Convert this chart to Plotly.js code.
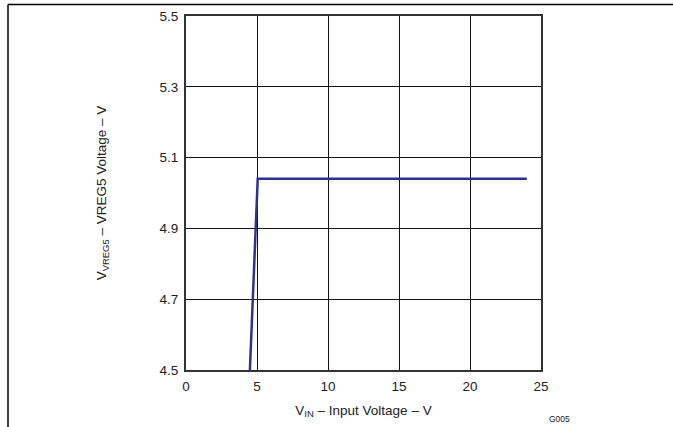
<!DOCTYPE html>
<html>
<head>
<meta charset="utf-8">
<script src="https://cdn.plot.ly/plotly-3.0.1.min.js"></script>
<style>
  html, body { margin: 0; padding: 0; background: #fff; }
  #chart { width: 673px; height: 427px; }
</style>
</head>
<body>
<div id="chart"></div>
<script>
// Data
const vin = [4.5, 5.05, 24];
const vreg5 = [4.5, 5.04, 5.04];
const xTicks = [0, 5, 10, 15, 20, 25];
const yTicks = [4.5, 4.7, 4.9, 5.1, 5.3, 5.5];
const yTickText = ['4.5', '4.7', '4.9', '5.1', '5.3', '5.5'];

const trace = {
  x: vin,
  y: vreg5,
  type: 'scatter',
  mode: 'lines',
  line: { color: '#2e3192', width: 2.5 },
  hoverinfo: 'skip',
  cliponaxis: true
};

const L = 186, R = 132, T = 16, B = 57;
const W = 673, H = 427;
const pw = W - L - R, ph = H - T - B;
const px = p => (p - L) / pw;
const py = p => (H - B - p) / ph;

const layout = {
  width: W,
  height: H,
  margin: { l: L, r: R, t: T, b: B, pad: 0 },
  paper_bgcolor: '#ffffff',
  plot_bgcolor: '#ffffff',
  showlegend: false,
  font: { family: 'Liberation Sans, Arial, sans-serif', size: 13.5, color: '#222' },
  xaxis: {
    range: [0, 25],
    tickvals: xTicks,
    ticktext: xTicks.map(String),
    ticks: '',
    ticklabelstandoff: 3,
    showgrid: true,
    gridcolor: '#111',
    gridwidth: 1,
    zeroline: false,
    showline: true,
    mirror: true,
    linecolor: '#333',
    linewidth: 2,
    tickfont: { size: 13.5, color: '#222' },
    title: { text: 'V<sub style="font-size:85%">IN</sub> – Input Voltage – V', font: { size: 13.5, color: '#222' }, standoff: 12 }
  },
  yaxis: {
    range: [4.5, 5.5],
    tickvals: yTicks,
    ticktext: yTickText,
    ticks: '',
    ticklabelstandoff: 3,
    showgrid: true,
    gridcolor: '#111',
    gridwidth: 1,
    zeroline: false,
    showline: true,
    mirror: true,
    linecolor: '#333',
    linewidth: 2,
    tickfont: { size: 13.5, color: '#222' },
    title: { text: 'V<sub style="font-size:85%">VREG5</sub> – VREG5 Voltage – V', font: { size: 13.5, color: '#222' }, standoff: 50 }
  },
  shapes: [
    { type: 'line', xref: 'paper', yref: 'paper', x0: px(8), x1: px(673), y0: py(4.5), y1: py(4.5),
      line: { color: '#000', width: 1.5 } },
    { type: 'line', xref: 'paper', yref: 'paper', x0: px(8), x1: px(8), y0: py(4.5), y1: py(427),
      line: { color: '#000', width: 1.5 } }
  ],
  annotations: [
    { text: 'G005', xref: 'paper', yref: 'paper', x: px(559), y: py(419), xanchor: 'center', yanchor: 'middle',
      showarrow: false, font: { size: 8.5, color: '#222' } }
  ]
};

Plotly.newPlot('chart', [trace], layout, { staticPlot: true, displayModeBar: false });
</script>
</body>
</html>
